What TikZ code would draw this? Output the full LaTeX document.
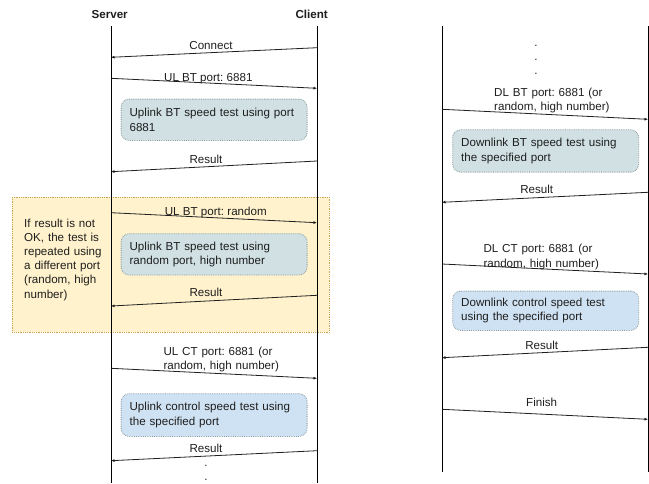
\documentclass[tikz,border=0pt]{standalone}
\usepackage{fontspec}
\setmainfont{Liberation Sans}
\usetikzlibrary{arrows.meta}
\frenchspacing
\definecolor{txt}{HTML}{1E1E1E}
\definecolor{linec}{HTML}{202020}
\definecolor{boxgrey}{HTML}{D0E0E3}
\definecolor{boxblue}{HTML}{CFE2F3}
\definecolor{boxedge}{HTML}{8A9A9E}
\definecolor{retryfill}{HTML}{FFF2CC}
\definecolor{retryedge}{HTML}{C8A24E}
\begin{document}
\begin{tikzpicture}[x=1pt,y=-1pt,
  every node/.style={inner sep=0pt, font=\fontsize{11.6}{14.2}\selectfont\frenchspacing, text=txt},
  head/.style={anchor=base, font=\fontsize{11.6}{14.2}\selectfont\bfseries},
  life/.style={line width=1pt, draw=black},
  msg/.style={line width=0.8pt, draw=linec, -{Latex[length=3.5pt,width=3pt]}},
  lbl/.style={anchor=base},
  mlbl/.style={anchor=base west, align=left, text width=135pt},
  testbox/.style={draw=boxedge, densely dotted, line width=0.8pt, rounded corners=8pt,
    anchor=north west, minimum width=186pt, minimum height=41.3pt,
    inner xsep=8.5pt, text width=169pt, align=left},
]
\useasboundingbox (0,0) rectangle (649,483);

% retry region
\node[draw=retryedge, densely dotted, line width=0.8pt, fill=retryfill, anchor=north west,
  minimum width=317pt, minimum height=135pt] (retry) at (12,197) {};
\node[mlbl, text width=85pt] (retrytxt) at (24,227) {If result is not\\OK, the test is\\repeated using\\a different port\\(random, high\\number)};

% lifelines
\coordinate (S0) at (111,26); \coordinate (S1) at (111,483);
\coordinate (C0) at (317,26); \coordinate (C1) at (317,483);
\coordinate (L0) at (442,26); \coordinate (L1) at (442,471.7);
\coordinate (R0) at (648,26); \coordinate (R1) at (648,471.7);
\draw[life] (S0) -- (S1);
\draw[life] (C0) -- (C1);
\draw[life] (L0) -- (L1);
\draw[life] (R0) -- (R1);

\node[head] (server) at (109.7,18.5) {Server};
\node[head] (client) at (311.7,18.5) {Client};

% Connect
\coordinate (m1a) at (317,47.7); \coordinate (m1b) at (111,57.3);
\draw[msg] (m1a) -- (m1b);
\node[lbl] (l1) at (211,49) {Connect};

% UL BT port 6881
\coordinate (m2a) at (111,78.3); \coordinate (m2b) at (317,88.3);
\draw[msg] (m2a) -- (m2b);
\node[lbl] (l2) at (208.3,81) {UL BT port: 6881};

\node[testbox, fill=boxgrey] (t1) at (120.7,98.7) {Uplink BT speed test using port\\6881};

% Result 1
\coordinate (m3a) at (317,161); \coordinate (m3b) at (111,171.7);
\draw[msg] (m3a) -- (m3b);
\node[lbl] (l3) at (206,163.3) {Result};

% UL BT random
\coordinate (m4a) at (111,212.7); \coordinate (m4b) at (317,222.7);
\draw[msg] (m4a) -- (m4b);
\node[lbl] (l4) at (215.8,215) {UL BT port: random};

\node[testbox, fill=boxgrey] (t2) at (120.7,233.3) {Uplink BT speed test using\\random port, high number};

% Result 2
\coordinate (m5a) at (317,295.3); \coordinate (m5b) at (111,306);
\draw[msg] (m5a) -- (m5b);
\node[lbl] (l5) at (206,296.7) {Result};

% UL CT
\coordinate (m6a) at (111,368.3); \coordinate (m6b) at (317,378.3);
\draw[msg] (m6a) -- (m6b);
\node[mlbl] (l6) at (163.3,355.2) {UL CT port: 6881 (or\\random, high number)};

\node[testbox, fill=boxblue, minimum height=42.7pt] (t3) at (120.7,393.3) {Uplink control speed test using\\the specified port};

% Result 3
\coordinate (m7a) at (317,450.7); \coordinate (m7b) at (111,460.7);
\draw[msg] (m7a) -- (m7b);
\node[lbl] (l7) at (206,452.3) {Result};
\node[lbl] (dl1) at (206,466) {.};
\node[lbl] (dl2) at (206,480) {.};

% right side
\node[lbl] (dr1) at (536,46.5) {.};
\node[lbl] (dr2) at (536,60.7) {.};
\node[lbl] (dr3) at (536,74.9) {.};

% DL BT
\coordinate (m8a) at (442,109.3); \coordinate (m8b) at (648,119.3);
\draw[msg] (m8a) -- (m8b);
\node[mlbl] (l8) at (494,96.2) {DL BT port: 6881 (or\\random, high number)};

\node[testbox, fill=boxgrey, minimum height=42.4pt] (t4) at (452.3,129.3) {Downlink BT speed test using\\the specified port};

% Result 4
\coordinate (m9a) at (648,192.3); \coordinate (m9b) at (442,202.3);
\draw[msg] (m9a) -- (m9b);
\node[lbl] (l9) at (536.7,193.3) {Result};

% DL CT
\coordinate (m10a) at (442,264); \coordinate (m10b) at (648,274);
\draw[msg] (m10a) -- (m10b);
\node[mlbl] (l10) at (483.3,252.8) {DL CT port: 6881 (or\\random, high number)};

\node[testbox, fill=boxblue, minimum height=39.3pt] (t5) at (452.3,290.7) {Downlink control speed test\\using the specified port};

% Result 5
\coordinate (m11a) at (648,347.3); \coordinate (m11b) at (442,357.7);
\draw[msg] (m11a) -- (m11b);
\node[lbl] (l11) at (541.7,349.3) {Result};

% Finish
\coordinate (m12a) at (442,409.3); \coordinate (m12b) at (648,419.3);
\draw[msg] (m12a) -- (m12b);
\node[lbl] (l12) at (541.7,406) {Finish};
\end{tikzpicture}
\end{document}
